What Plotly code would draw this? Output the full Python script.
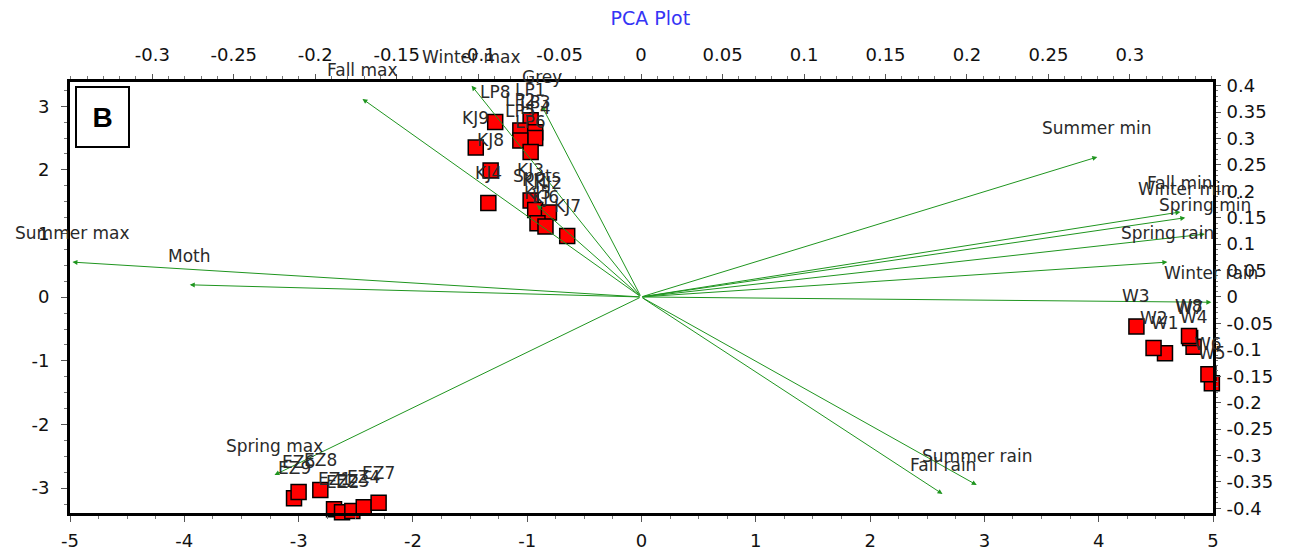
import plotly.graph_objects as go

# sample scores (PC1, PC2) - bottom / left axes
sample_names = ["LP8", "LP1", "LP2", "LP3", "LP4", "LP5", "LP6",
                "KJ9", "KJ8", "KJ4", "KJ3", "KJ1", "KJ2", "KJ5", "KJ6", "KJ7",
                "W1", "W2", "W3", "W4", "W5", "W6", "W7", "W8",
                "EZ9", "EZ6", "EZ8", "EZ1", "EZ2", "EZ3", "EZ4", "EZ7"]
pc1 = [-1.28, -0.97, -1.06, -0.93, -0.93, -1.06, -0.97,
       -1.45, -1.32, -1.34, -0.97, -0.93, -0.81, -0.91, -0.84, -0.65,
       4.58, 4.48, 4.33, 4.83, 4.99, 4.96, 4.80, 4.79,
       -3.04, -3.00, -2.81, -2.69, -2.62, -2.53, -2.43, -2.30]
pc2 = [2.75, 2.78, 2.62, 2.59, 2.50, 2.46, 2.28,
       2.35, 1.99, 1.48, 1.52, 1.37, 1.33, 1.16, 1.11, 0.96,
       -0.88, -0.80, -0.46, -0.78, -1.35, -1.21, -0.64, -0.61,
       -3.16, -3.06, -3.03, -3.33, -3.38, -3.36, -3.30, -3.23]

# variable loadings - top / right axes
var_names = ["Summer max", "Moth", "Spring max", "Fall max", "Winter max", "Grey", "Spots",
             "Summer min", "Fall min", "Winter min", "Spring min", "Spring rain",
             "Winter rain", "Summer rain", "Fall rain"]
load1 = [-0.349, -0.277, -0.225, -0.171, -0.104, -0.061, -0.064,
         0.280, 0.331, 0.334, 0.346, 0.323, 0.350, 0.206, 0.185]
load2 = [0.066, 0.023, -0.337, 0.375, 0.400, 0.362, 0.174,
         0.265, 0.161, 0.150, 0.119, 0.066, -0.010, -0.356, -0.373]

x_ticks = [-5, -4, -3, -2, -1, 0, 1, 2, 3, 4, 5]
y_ticks = [-3, -2, -1, 0, 1, 2, 3]
x2_ticks = [-0.3, -0.25, -0.2, -0.15, -0.1, -0.05, 0, 0.05, 0.1, 0.15, 0.2, 0.25, 0.3]
y2_ticks = [-0.4, -0.35, -0.3, -0.25, -0.2, -0.15, -0.1, -0.05, 0,
            0.05, 0.1, 0.15, 0.2, 0.25, 0.3, 0.35, 0.4]


def fmt(v):
    return ("%g" % v)


FONT = "DejaVu Sans, Verdana, sans-serif"
TXT = "#2a2a2a"
GREEN = "#1f951f"

fig = go.Figure()

fig.add_trace(go.Scatter(
    x=pc1, y=pc2, mode="markers", text=sample_names,
    marker=dict(symbol="square", size=15, color="#ff0000",
                line=dict(color="black", width=1.5)),
    cliponaxis=False, showlegend=False,
))
# invisible trace to activate the loading axes
fig.add_trace(go.Scatter(x=load1, y=load2, xaxis="x2", yaxis="y2",
                         mode="markers", marker=dict(opacity=0),
                         showlegend=False, hoverinfo="skip"))

annotations = []
for nm, a, b in zip(var_names, load1, load2):
    annotations.append(dict(
        x=a, y=b, xref="x2", yref="y2", ax=0, ay=0, axref="x2", ayref="y2",
        text="", showarrow=True, arrowhead=2, arrowsize=1, arrowwidth=1,
        arrowcolor=GREEN))
for nm, a, b in zip(var_names, load1, load2):
    annotations.append(dict(
        x=a, y=b, xref="x2", yref="y2", text=nm, showarrow=False,
        yshift=29, font=dict(family=FONT, size=17, color=TXT)))
for nm, a, b in zip(sample_names, pc1, pc2):
    annotations.append(dict(
        x=a, y=b, xref="x", yref="y", text=nm, showarrow=False,
        yshift=30, font=dict(family=FONT, size=17, color=TXT)))

annotations.append(dict(
    x=0.0044, y=0.991, xref="paper", yref="paper", xanchor="left", yanchor="top",
    text="<b>B</b>", showarrow=False, width=49, height=56,
    bordercolor="black", borderwidth=2, bgcolor="white",
    font=dict(family="Liberation Sans, Arial, sans-serif", size=28, color="black")))

axis_common = dict(showgrid=False, zeroline=False, showline=True, linecolor="black",
                   linewidth=3, ticks="outside", tickcolor="#555", tickwidth=1,
                   automargin=False,
                   tickfont=dict(family=FONT, size=18, color="#111"))

fig.update_layout(
    width=1293, height=553,
    margin=dict(l=70, r=80, t=82, b=40, autoexpand=False),
    paper_bgcolor="white", plot_bgcolor="white",
    title=dict(text="PCA Plot", x=0.503, y=0.967, xanchor="center", yanchor="middle",
               font=dict(family=FONT, size=19, color="#3535f5")),
    annotations=annotations,
    xaxis=dict(range=[-5, 5], tickmode="array", tickvals=x_ticks,
               ticktext=[fmt(v) for v in x_ticks], ticklen=6, ticklabelstandoff=3,
               minor=dict(dtick=0.25, tick0=0, ticks="outside", ticklen=3, tickcolor="#777"),
               **axis_common),
    yaxis=dict(range=[-3.39, 3.38], tickmode="array", tickvals=y_ticks,
               ticktext=[fmt(v) for v in y_ticks], ticklen=6, ticklabelstandoff=8,
               minor=dict(dtick=0.25, tick0=0, ticks="outside", ticklen=3, tickcolor="#777"),
               **axis_common),
    xaxis2=dict(range=[-0.3505, 0.351], overlaying="x", side="top", tickmode="array",
                tickvals=x2_ticks, ticktext=[fmt(v) for v in x2_ticks], ticklen=5,
                ticklabelstandoff=6,
                minor=dict(dtick=0.01, tick0=0, ticks="outside", ticklen=3, tickcolor="#777"),
                **axis_common),
    yaxis2=dict(range=[-0.409, 0.407], overlaying="y", side="right", tickmode="array",
                tickvals=y2_ticks, ticktext=[fmt(v) for v in y2_ticks], ticklen=5,
                ticklabelstandoff=2,
                minor=dict(dtick=0.01, tick0=0, ticks="outside", ticklen=2, tickcolor="#777"),
                **axis_common),
    showlegend=False,
)

fig.write_html("out.html", config={"displayModeBar": False},
               post_script="document.body.style.margin='0';")
